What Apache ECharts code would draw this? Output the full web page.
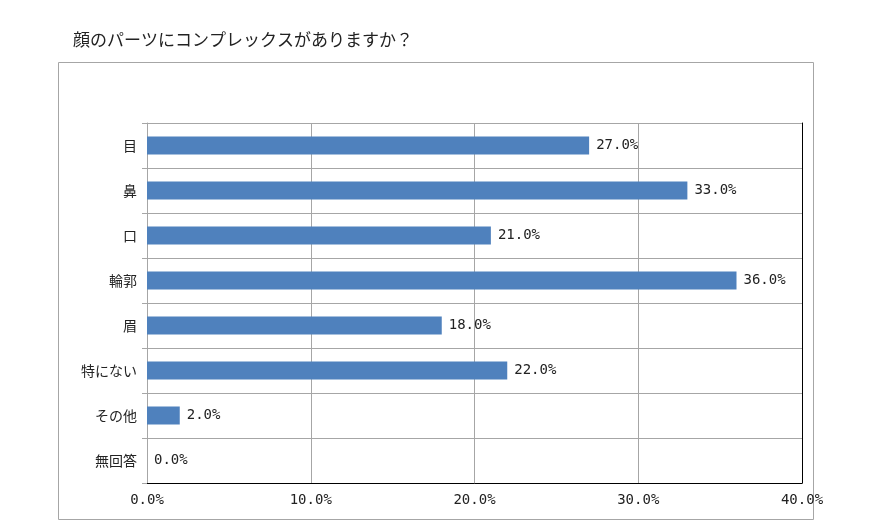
<!DOCTYPE html>
<html>
<head>
    <meta charset="UTF-8">
    <title>顔のパーツにコンプレックスがありますか？</title>
    <script src="https://cdn.jsdelivr.net/npm/echarts@6/dist/echarts.min.js"></script>
</head>
<body style="margin:0;">
<div id="chart" style="width:873px;height:523px;"></div>
<script type="text/javascript">
    // 顔のパーツ
    var parts = ['目', '鼻', '口', '輪郭', '眉', '特にない', 'その他', '無回答'];
    // 割合(%)
    var ratio = [27, 33, 21, 36, 18, 22, 2, 0];

    var jpFont = '"Noto Sans CJK JP", sans-serif';
    var numFont = '"DejaVu Sans Mono", "Liberation Mono", monospace';

    var myChart = echarts.init(document.getElementById('chart'));
    myChart.setOption({
        backgroundColor: '#fff',
        animation: false,
        title: {
            text: '顔のパーツにコンプレックスがありますか？',
            left: 68,
            top: 26,
            textStyle: {fontFamily: jpFont, fontSize: 17, fontWeight: 'normal', color: '#222'}
        },
        graphic: [{
            type: 'rect',
            shape: {x: 58.5, y: 62.5, width: 755, height: 457},
            style: {fill: 'none', stroke: '#a6a6a6', lineWidth: 1},
            silent: true
        }],
        grid: {left: 147, right: 71, top: 123, bottom: 40},
        xAxis: {
            type: 'value',
            min: 0,
            max: 40,
            interval: 10,
            axisLine: {show: true, lineStyle: {color: '#000'}},
            axisTick: {show: false},
            splitLine: {show: true, lineStyle: {color: '#a6a6a6'}},
            axisLabel: {
                margin: 10,
                fontFamily: numFont,
                fontSize: 14,
                color: '#222',
                formatter: function (v) {
                    return v.toFixed(1) + '%';
                }
            }
        },
        yAxis: [{
            type: 'category',
            data: parts,
            inverse: true,
            axisLine: {show: true, lineStyle: {color: '#a6a6a6'}},
            axisTick: {show: true, length: 5, lineStyle: {color: '#a6a6a6'}},
            splitLine: {show: true, lineStyle: {color: '#a6a6a6'}},
            axisLabel: {margin: 10, fontFamily: jpFont, fontSize: 14, color: '#222'}
        }, {
            type: 'category',
            data: parts,
            inverse: true,
            position: 'right',
            axisLine: {show: true, lineStyle: {color: '#000'}},
            axisTick: {show: false},
            axisLabel: {show: false},
            splitLine: {show: false}
        }],
        series: [{
            type: 'bar',
            data: ratio,
            barWidth: 18,
            itemStyle: {color: '#4f81bd'},
            label: {
                show: true,
                position: 'right',
                distance: 7,
                fontFamily: numFont,
                fontSize: 14,
                color: '#222',
                formatter: function (p) {
                    return p.value.toFixed(1) + '%';
                }
            }
        }]
    });
</script>
</body>
</html>
